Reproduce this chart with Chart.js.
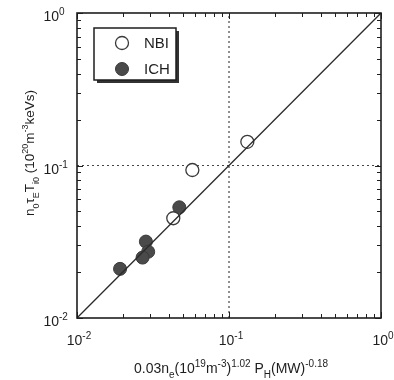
<!DOCTYPE html>
<html>
<head>
<meta charset="utf-8">
<script src="https://cdn.jsdelivr.net/npm/chart.js@4.4.0/dist/chart.umd.min.js"></script>
<style>
  body { margin: 0; background: #fff; }
  #wrap { width: 394px; height: 380px; }
</style>
</head>
<body>
<div id="wrap"><canvas id="grafico" width="394" height="380"></canvas></div>
<script>
// Datos
const nbiX = [0.132, 0.0574, 0.0430];
const nbiY = [0.143, 0.0934, 0.0451];
const ichX = [0.0192, 0.0284, 0.0294, 0.0270, 0.0471];
const ichY = [0.0210, 0.0317, 0.0272, 0.0249, 0.0532];
const serieNombres = ['NBI', 'ICH'];

// Ejes
const ejeMin = 0.01;
const ejeMax = 1;
const ticksMayores = [0.01, 0.1, 1];
const exponentes = ['-2', '-1', '0'];
const lineaRef = 0.1;

// Titulos con sub/superindices: [texto, modo]
const tituloX = [['0.03n', 'n'], ['e', 'sub'], ['(10', 'n'], ['19', 'sup'], ['m', 'n'], ['-3', 'sup'],
  [')', 'n'], ['1.02', 'sup'], [' P', 'n'], ['H', 'sub'], ['(MW)', 'n'], ['-0.18', 'sup']];
const tituloY = [['n', 'n'], ['0', 'sub'], ['\u03c4', 'n'], ['E', 'sub'], ['T', 'n'], ['i0', 'sub'],
  [' (10', 'n'], ['20', 'sup'], ['m', 'n'], ['-3', 'sup'], ['keVs)', 'n']];

const FUENTE = '"Liberation Sans", Arial, sans-serif';
const TINTA = '#1e1e1e';

function toPoints(xs, ys) {
    return xs.map((x, i) => ({ x: x, y: ys[i] }));
}

// Dibuja texto con subindices y superindices
function drawRich(ctx, segs, x, y, size, align) {
    const small = Math.round(size * 0.68);
    let total = 0;
    segs.forEach(s => {
        ctx.font = (s[1] === 'n' ? size : small) + 'px ' + FUENTE;
        total += ctx.measureText(s[0]).width;
    });
    let cx = align === 'center' ? x - total / 2 : (align === 'right' ? x - total : x);
    ctx.textAlign = 'left';
    ctx.textBaseline = 'alphabetic';
    segs.forEach(s => {
        ctx.font = (s[1] === 'n' ? size : small) + 'px ' + FUENTE;
        let dy = 0;
        if (s[1] === 'sub') dy = size * 0.38;
        if (s[1] === 'sup') dy = -size * 0.42;
        ctx.fillText(s[0], cx, y + dy);
        cx += ctx.measureText(s[0]).width;
    });
}

// Plugin: marco, ticks hacia dentro, etiquetas, titulos y leyenda
const marcoPlugin = {
    id: 'marco',
    afterDraw(chart) {
        const { ctx, chartArea } = chart;
        const xs = chart.scales.x, ys = chart.scales.y;
        const { left, right, top, bottom } = chartArea;
        ctx.save();
        ctx.strokeStyle = TINTA;
        ctx.fillStyle = TINTA;

        // ticks menores y mayores en los cuatro lados
        ctx.lineWidth = 1;
        for (let d = 0.01; d < 1; d *= 10) {
            for (let k = 1; k <= 10; k++) {
                const v = d * k;
                const len = (k === 1 || k === 10) ? 6 : 4;
                const px = Math.round(xs.getPixelForValue(v)) + 0.5;
                const py = Math.round(ys.getPixelForValue(v)) + 0.5;
                ctx.beginPath();
                ctx.moveTo(px, bottom); ctx.lineTo(px, bottom - len);
                ctx.moveTo(px, top); ctx.lineTo(px, top + len);
                ctx.moveTo(left, py); ctx.lineTo(left + len, py);
                ctx.moveTo(right, py); ctx.lineTo(right - len, py);
                ctx.stroke();
            }
        }

        // marco
        ctx.lineWidth = 1.6;
        ctx.strokeRect(left, top, right - left, bottom - top);

        // etiquetas de los ticks
        ticksMayores.forEach((v, i) => {
            const px = xs.getPixelForValue(v);
            drawRich(ctx, [['10', 'n'], [exponentes[i], 'sup']], px + 2, bottom + 27, 14, 'center');
            const py = ys.getPixelForValue(v);
            ctx.font = '14px ' + FUENTE;
            const w = ctx.measureText('10').width;
            drawRich(ctx, [['10', 'n'], [exponentes[i], 'sup']], 59 - w, py + 8, 14, 'left');
        });

        // titulos de ejes
        drawRich(ctx, tituloX, (left + right) / 2 + 2, bottom + 55, 14, 'center');
        ctx.save();
        ctx.translate(34, 153);
        ctx.rotate(-Math.PI / 2);
        drawRich(ctx, tituloY, 0, 0, 13.5, 'center');
        ctx.restore();

        // leyenda
        const bx = 94, by = 28, bw = 82, bh = 52;
        ctx.fillStyle = '#333';
        ctx.fillRect(bx + 3, by + 3, bw, bh);
        ctx.fillStyle = '#fff';
        ctx.fillRect(bx, by, bw, bh);
        ctx.lineWidth = 1.5;
        ctx.strokeRect(bx, by, bw, bh);
        const ds = chart.data.datasets;
        [ds[1], ds[2]].forEach((d, i) => {
            const cy = 43 + i * 26;
            ctx.beginPath();
            ctx.arc(122, cy, d.pointRadius, 0, Math.PI * 2);
            ctx.fillStyle = d.pointBackgroundColor;
            ctx.fill();
            ctx.lineWidth = d.pointBorderWidth;
            ctx.strokeStyle = d.pointBorderColor;
            ctx.stroke();
            ctx.fillStyle = TINTA;
            ctx.font = '15px ' + FUENTE;
            ctx.textAlign = 'left';
            ctx.textBaseline = 'middle';
            ctx.fillText(d.label, 144, cy + 1);
        });
        ctx.restore();
    }
};

const ctx = document.getElementById('grafico').getContext('2d');
new Chart(ctx, {
    type: 'scatter',
    data: {
        datasets: [
            {
                label: 'diagonal',
                data: [{ x: ejeMin, y: ejeMin }, { x: ejeMax, y: ejeMax }],
                showLine: true,
                borderColor: '#2a2a2a',
                borderWidth: 1.3,
                pointRadius: 0
            },
            {
                label: serieNombres[0],
                data: toPoints(nbiX, nbiY),
                pointRadius: 6.5,
                pointBackgroundColor: '#fff',
                pointBorderColor: '#3a3a3a',
                pointBorderWidth: 1.3
            },
            {
                label: serieNombres[1],
                data: toPoints(ichX, ichY),
                pointRadius: 6.5,
                pointBackgroundColor: '#4a4a4a',
                pointBorderColor: '#3a3a3a',
                pointBorderWidth: 1
            },
            {
                label: 'vertical',
                data: [{ x: lineaRef, y: ejeMin }, { x: lineaRef, y: ejeMax }],
                showLine: true,
                borderColor: '#444',
                borderWidth: 1.2,
                borderDash: [2, 3],
                pointRadius: 0
            },
            {
                label: 'horizontal',
                data: [{ x: ejeMin, y: lineaRef }, { x: ejeMax, y: lineaRef }],
                showLine: true,
                borderColor: '#444',
                borderWidth: 1.2,
                borderDash: [2, 3],
                pointRadius: 0
            }
        ]
    },
    options: {
        responsive: false,
        animation: false,
        layout: { padding: { left: 77, right: 13, top: 13, bottom: 62 } },
        scales: {
            x: { type: 'logarithmic', min: ejeMin, max: ejeMax, display: false },
            y: { type: 'logarithmic', min: ejeMin, max: ejeMax, display: false }
        },
        plugins: {
            legend: { display: false },
            tooltip: { enabled: false }
        }
    },
    plugins: [marcoPlugin]
});
</script>
</body>
</html>
